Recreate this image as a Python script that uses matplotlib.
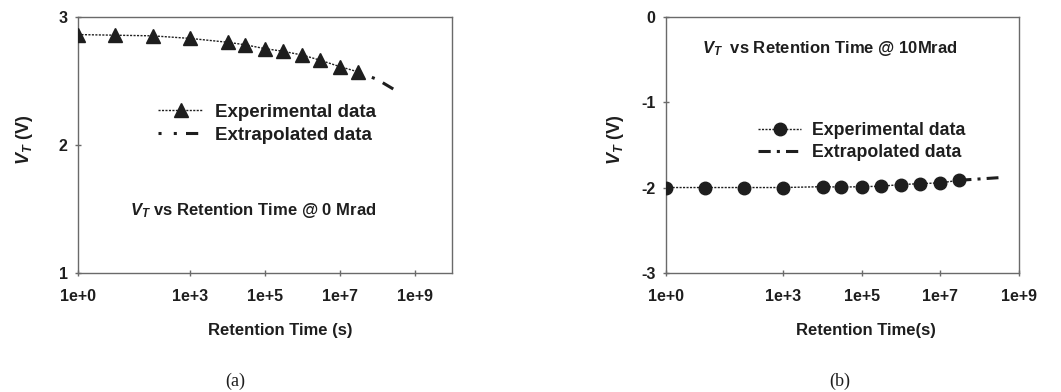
import matplotlib
matplotlib.use("Agg")
import matplotlib.pyplot as plt

plt.rcParams['font.family'] = ['Liberation Sans', 'DejaVu Sans']
plt.rcParams['font.weight'] = 'bold'
plt.rcParams['axes.labelweight'] = 'bold'
plt.rcParams['axes.unicode_minus'] = False
plt.rcParams['mathtext.fontset'] = 'custom'
plt.rcParams['mathtext.it'] = 'Liberation Sans:bold:italic'
plt.rcParams['mathtext.rm'] = 'Liberation Sans:bold'
plt.rcParams['mathtext.bf'] = 'Liberation Sans:bold'

# retention times (s)
time_exp = [1, 10, 100, 1e3, 1e4, 3e4, 1e5, 3e5, 1e6, 3e6, 1e7, 3e7]

# (a) 0 Mrad
vt_exp_a = [2.86, 2.855, 2.85, 2.83, 2.80, 2.78, 2.75, 2.73, 2.70, 2.66, 2.61, 2.57]
time_ext_a = [3e7, 1e8, 3.3e8]
vt_ext_a = [2.57, 2.51, 2.42]

# (b) 10 Mrad
vt_exp_b = [-2.0, -2.0, -2.0, -2.0, -1.99, -1.995, -1.99, -1.985, -1.965, -1.955, -1.945, -1.915]
time_ext_b = [3e7, 3e8]
vt_ext_b = [-1.915, -1.885]

xticks = [1, 1e3, 1e5, 1e7, 1e9]
xticklabels = ['1e+0', '1e+3', '1e+5', '1e+7', '1e+9']

ink = '#1e1e1e'
spine = '#6a6a6a'

fig = plt.figure(figsize=(10.61, 3.92), dpi=100)
ax1 = fig.add_axes([0.0735, 0.3036, 0.3525, 0.654])
ax2 = fig.add_axes([0.6274, 0.3036, 0.333, 0.654])


def style_axes(ax, xmax, yticks):
    ax.set_xscale('log')
    ax.set_xlim(1, xmax)
    ax.set_xticks(xticks)
    ax.set_xticklabels(xticklabels, fontweight='bold')
    ax.minorticks_off()
    ax.set_yticks(yticks)
    ax.set_yticklabels([str(v) for v in yticks], fontweight='bold')
    ax.set_ylim(yticks[0], yticks[-1])
    for s in ax.spines.values():
        s.set_color(spine)
        s.set_linewidth(1.0)
    ax.tick_params(direction='inout', length=5, width=1, color=spine,
                   labelsize=11.5, labelcolor=ink)
    ax.tick_params(axis='x', pad=9)
    ax.tick_params(axis='y', pad=5)
    ax.set_ylabel(r'$V_T$ (V)', fontsize=13, color=ink, fontweight='bold')


# panel (a)
ax1.plot(time_ext_a, vt_ext_a, color=ink, lw=2.2, dashes=(1, 4, 1, 3, 4, 2),
         label='Extrapolated data', zorder=2)
ax1.plot(time_exp, vt_exp_a, color=ink, lw=1.0, dashes=(1.5, 1), marker='^',
         markersize=10, label='Experimental data', zorder=3)
style_axes(ax1, 1e10, [1, 2, 3])
ax1.set_xlabel('Retention Time (s)', fontsize=12, color=ink)
ax1.xaxis.set_label_coords(0.54, -0.195)
ax1.yaxis.set_label_coords(-0.115, 0.52)
h, l = ax1.get_legend_handles_labels()
ax1.legend(h[::-1], l[::-1], loc='upper left', bbox_to_anchor=(0.215, 0.66),
           frameon=False, fontsize=13.5, handlelength=2.4, handletextpad=0.6,
           labelspacing=0.3, borderpad=0, borderaxespad=0, labelcolor=ink)
ax1.text(0.468, 0.242, r'$V_T$ vs Retention Time @ 0 Mrad', transform=ax1.transAxes,
         ha='center', va='center', fontsize=12, color=ink, fontweight='bold')

# panel (b)
ax2.plot(time_ext_b, vt_ext_b, color=ink, lw=2.2, dashes=(4, 2, 1, 2),
         label='Extrapolated data', zorder=2)
ax2.plot(time_exp, vt_exp_b, color=ink, lw=1.0, dashes=(1.5, 1), marker='o',
         markersize=9, label='Experimental data', zorder=3)
style_axes(ax2, 1e9, [-3, -2, -1, 0])
ax2.set_xlabel('Retention Time(s)', fontsize=12, color=ink)
ax2.xaxis.set_label_coords(0.567, -0.195)
ax2.yaxis.set_label_coords(-0.113, 0.52)
h, l = ax2.get_legend_handles_labels()
ax2.legend(h[::-1], l[::-1], loc='upper left', bbox_to_anchor=(0.262, 0.59),
           frameon=False, fontsize=12.8, handlelength=2.4, handletextpad=0.6,
           labelspacing=0.3, borderpad=0, borderaxespad=0, labelcolor=ink)
ax2.text(0.465, 0.875, r'$V_T$  vs Retention Time @ 10Mrad', transform=ax2.transAxes,
         ha='center', va='center', fontsize=12, color=ink, fontweight='bold')

# captions
fig.text(235 / 1061, 1 - 381 / 392, '(a)', ha='center', va='center',
         fontsize=13, family='Liberation Serif', weight='normal', color=ink)
fig.text(840 / 1061, 1 - 381 / 392, '(b)', ha='center', va='center',
         fontsize=13, family='Liberation Serif', weight='normal', color=ink)

fig.savefig('out.png', dpi=100)
